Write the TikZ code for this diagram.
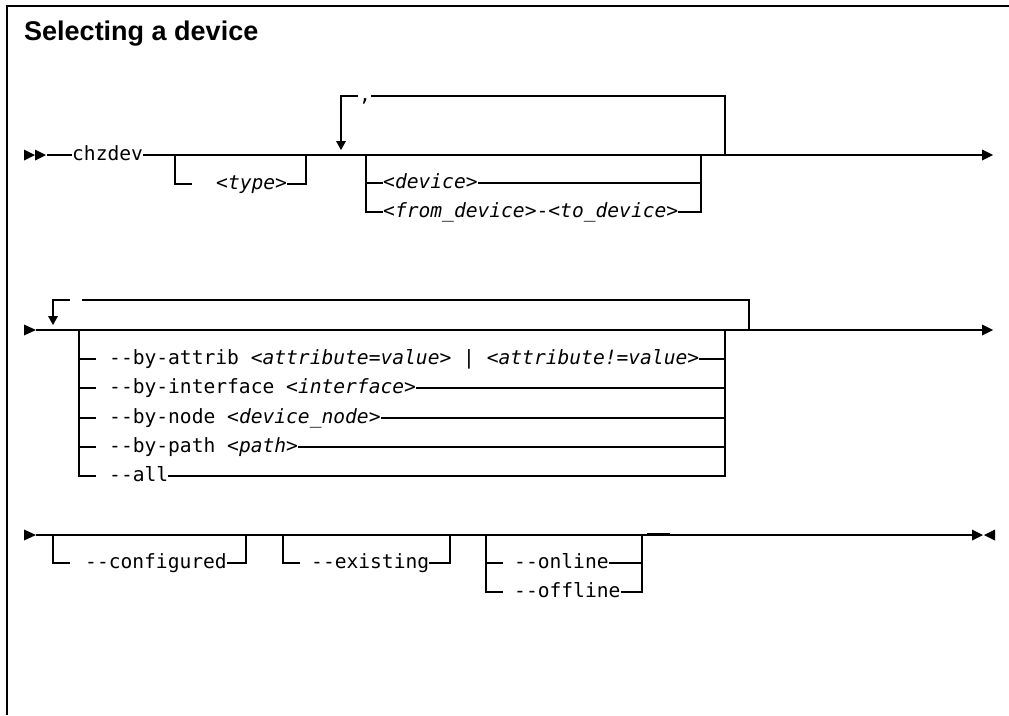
\documentclass[tikz,border=0pt]{standalone}
\usepackage{fontspec}
\setmainfont{Liberation Sans}
\newfontfamily\dvm{DejaVu Sans Mono}[ItalicFont={DejaVu Sans Mono Oblique},Ligatures=TeXOff]
\newcommand{\mtfont}{\dvm\fontsize{19.6}{22}\selectfont}
\begin{document}
\mtfont
\begin{tikzpicture}[x=1pt,y=-1pt,
  rail/.style={line width=1.3pt},
  lbl/.style={font=\mtfont, inner sep=0pt, anchor=mid west},
  frame/.style={line width=2pt},
]
\useasboundingbox (0,0) rectangle (1009,715);
\draw[frame] (1009,5.5) -- (7,5.5) -- (7,715);
\node[font=\rmfamily\bfseries\fontsize{27}{30}\selectfont, inner sep=0pt, anchor=base west] (title) at (24,40) {Selecting a device};

% ---------------- Row 1 ----------------
\fill (24,149.5) -- (35,155) -- (24,160.5) -- cycle;
\fill (35,149.5) -- (46,155) -- (35,160.5) -- cycle;
\coordinate (s1) at (47,155);
\coordinate (e1) at (982,155);
\node[lbl] (chz) at (72,155) {chzdev};
\draw[rail] (s1) -- (chz.mid west);
\draw[rail] (chz.mid east) -- (e1);
\fill (e1) ++(0,-5.5) -- ++(11,5.5) -- ++(-11,5.5) -- cycle;
% optional type
\coordinate (ta) at (175,155);
\coordinate (tb) at (192,184);
\coordinate (tc) at (306,155);
\node[lbl] (type) at (216,184) {\itshape <type>};
\draw[rail] (ta) |- (tb);
\draw[rail] (type.mid east) -| (tc);
% repeat loop
\coordinate (ra) at (341,141);
\coordinate (rb) at (358,96);
\coordinate (rc) at (725,155);
\node[lbl] (comma) at (359,96) {,};
\draw[rail] (ra) |- (rb);
\draw[rail] (comma.mid east) -| (rc);
\fill (336,141) -- (346,141) -- (341,150) -- cycle;
% choice
\coordinate (ca) at (366,155);
\coordinate (cb) at (366,183);
\coordinate (cc) at (701,155);
\coordinate (cd) at (701,183);
\node[lbl] (dev) at (383,183) {\itshape <device>};
\node[lbl] (fd) at (383,212) {\itshape <from\_device>\upshape-\itshape<to\_device>};
\draw[rail] (ca) |- (fd.mid west);
\draw[rail] (cb) -- (dev.mid west);
\draw[rail] (dev.mid east) -- (cd);
\draw[rail] (fd.mid east) -| (cc);

% ---------------- Row 2 ----------------
\fill (24,324.5) -- (36,330) -- (24,335.5) -- cycle;
\coordinate (s2) at (36,330);
\coordinate (e2) at (982,330);
\draw[rail] (s2) -- (e2);
\fill (e2) ++(0,-5.5) -- ++(11,5.5) -- ++(-11,5.5) -- cycle;
% repeat loop
\coordinate (la) at (53,316);
\coordinate (lb) at (70,300);
\coordinate (lc) at (82,300);
\coordinate (ld) at (749,330);
\draw[rail] (la) |- (lb);
\draw[rail] (lc) -| (ld);
\fill (48,316) -- (58,316) -- (53,325) -- cycle;
% choice
\node[lbl] (o1) at (109,359) {--by-attrib \itshape<attribute=value>\upshape{} | \itshape<attribute!=value>};
\node[lbl] (o2) at (109,388) {--by-interface \itshape<interface>};
\node[lbl] (o3) at (109,418) {--by-node \itshape<device\_node>};
\node[lbl] (o4) at (109,447) {--by-path \itshape<path>};
\node[lbl] (o5) at (109,476) {--all};
\coordinate (qa) at (79,330);
\coordinate (qz) at (725,330);
\draw[rail] (qa) |- (96,476);
\foreach \yy in {359,388,418,447} \draw[rail] (79,\yy) -- (96,\yy);
\draw[rail] (o1.mid east) -- (725,359);
\draw[rail] (o2.mid east) -- (725,388);
\draw[rail] (o3.mid east) -- (725,418);
\draw[rail] (o4.mid east) -- (725,447);
\draw[rail] (o5.mid east) -| (qz);

% ---------------- Row 3 ----------------
\fill (24,529.5) -- (36,535) -- (24,540.5) -- cycle;
\coordinate (s3) at (36,535);
\coordinate (e3) at (972,535);
\draw[rail] (s3) -- (e3);
\draw[line width=2pt] (647,534.4) -- (670,534.4);
\fill (972,529.5) -- (983,535) -- (972,540.5) -- cycle;
\fill (995,529.5) -- (984,535) -- (995,540.5) -- cycle;
% configured
\node[lbl] (cfg) at (85,563) {--configured};
\draw[rail] (53,535) |- (70,563);
\draw[rail] (cfg.mid east) -| (246,535);
% existing
\node[lbl] (ex) at (311,563) {--existing};
\draw[rail] (283,535) |- (300,563);
\draw[rail] (ex.mid east) -| (450,535);
% online / offline
\node[lbl] (on) at (514,563) {--online};
\node[lbl] (off) at (514,592) {--offline};
\draw[rail] (486,535) |- (503,592);
\draw[rail] (486,563) -- (503,563);
\draw[rail] (on.mid east) -- (642,563);
\draw[rail] (off.mid east) -| (642,535);
\end{tikzpicture}
\end{document}
